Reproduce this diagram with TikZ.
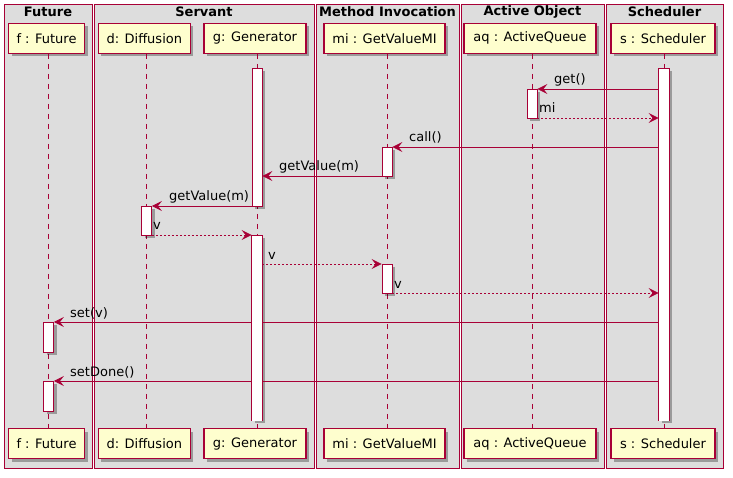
\documentclass[tikz,border=0pt]{standalone}
\usepackage{fontspec}
\setmainfont{DejaVu Sans}
\usetikzlibrary{arrows.meta,shadows}
\definecolor{pred}{HTML}{A80036}
\definecolor{pcream}{HTML}{FEFECE}
\definecolor{pgray}{HTML}{DDDDDD}
\begin{document}
\begin{tikzpicture}[x=1pt,y=-1pt,
  every node/.style={font=\fontsize{13}{15}\selectfont},
  grp/.style={draw=pred, fill=pgray, line width=0.8pt, anchor=north west, inner sep=0pt},
  grptitle/.style={font=\fontsize{13}{15}\selectfont\bfseries, inner sep=0pt},
  shad/.style={drop shadow={shadow xshift=3pt, shadow yshift=-3pt, opacity=0.3, fill=black}},
  part/.style={draw=pred, fill=pcream, line width=1.2pt, minimum height=30pt, inner sep=0pt, shad},
  life/.style={draw=pred, dash pattern=on 5pt off 5pt, line width=0.8pt},
  act/.style={draw=pred, fill=white, line width=0.8pt, minimum width=10pt, inner sep=0pt, anchor=north, shad},
  openact/.style={act, draw=none},
  actedge/.style={draw=pred, line width=0.8pt},
  msg/.style={draw=pred, line width=0.8pt, -{Stealth[length=10pt,width=10pt,inset=4pt]}},
  ret/.style={msg, dash pattern=on 2pt off 2pt},
  lbl/.style={anchor=base west, inner sep=0pt}
]
\useasboundingbox (0,0) rectangle (733,478);
\fill[white] (0,0) rectangle (733,478);
% groups
\node[grp, minimum width=88pt, minimum height=464pt] (gF) at (4,4) {};
\node[grp, minimum width=220pt, minimum height=464pt] (gS) at (94,4) {};
\node[grp, minimum width=143pt, minimum height=464pt] (gM) at (316,4) {};
\node[grp, minimum width=143pt, minimum height=464pt] (gA) at (461,4) {};
\node[grp, minimum width=117pt, minimum height=464pt] (gC) at (606,4) {};
\node[grptitle] (tF) at (48,12) {Future};
\node[grptitle] (tS) at (204,12) {Servant};
\node[grptitle] (tM) at (387.5,12) {Method Invocation};
\node[grptitle] (tA) at (532.5,12) {Active Object};
\node[grptitle] (tC) at (664.5,12) {Scheduler};
% participants
\node[part, minimum width=76pt] (pF) at (46.5,38.3) {f : Future};
\node[part, minimum width=92pt] (pD) at (144.3,38.3) {d: Diffusion};
\node[part, minimum width=102pt] (pG) at (255,38.3) {g: Generator};
\node[part, minimum width=121pt] (pM) at (384.5,38.3) {mi : GetValueMI};
\node[part, minimum width=132pt] (pA) at (530,38.3) {aq : ActiveQueue};
\node[part, minimum width=104pt] (pS) at (663,38.3) {s : Scheduler};
\node[part, minimum width=76pt] (bF) at (46.5,443.8) {f : Future};
\node[part, minimum width=92pt] (bD) at (144.3,443.8) {d: Diffusion};
\node[part, minimum width=102pt] (bG) at (255,443.8) {g: Generator};
\node[part, minimum width=121pt] (bM) at (384.5,443.8) {mi : GetValueMI};
\node[part, minimum width=132pt] (bA) at (530,443.8) {aq : ActiveQueue};
\node[part, minimum width=104pt] (bS) at (663,443.8) {s : Scheduler};
% lifeline x
\coordinate (xf) at (48.5,0);
\coordinate (xd) at (146.5,0);
\coordinate (xg) at (257,0);
\coordinate (xm) at (387,0);
\coordinate (xa) at (532,0);
\coordinate (xs) at (664,0);
\draw[life] (xf |- pF.south) -- (xf |- bF.north);
\draw[life] (xd |- pD.south) -- (xd |- bD.north);
\draw[life] (xg |- pG.south) -- (xg |- bG.north);
\draw[life] (xm |- pM.south) -- (xm |- bM.north);
\draw[life] (xa |- pA.south) -- (xa |- bA.north);
\draw[life] (xs |- pS.south) -- (xs |- bS.north);
% activations (short ones)
\node[act, minimum height=138pt] (gA1) at (257,68) {};
\node[act, minimum height=29pt] (aA) at (532,89) {};
\node[act, minimum height=29pt] (mA1) at (387,147) {};
\node[act, minimum height=29pt] (mA2) at (387,264) {};
\node[act, minimum height=29pt] (dA) at (146.5,206) {};
\node[act, minimum height=30pt] (fA1) at (48.5,322) {};
\node[act, minimum height=30pt] (fA2) at (48.5,381) {};
% message rows
\coordinate (m1) at (0,89);
\coordinate (m2) at (0,118);
\coordinate (m3) at (0,147);
\coordinate (m4) at (0,176);
\coordinate (m5) at (0,206);
\coordinate (m6) at (0,235);
\coordinate (m7) at (0,264);
\coordinate (m8) at (0,293);
\coordinate (m9) at (0,322);
\coordinate (m10) at (0,381);
% long open-ended activations
\node[openact, minimum height=185pt] (gA2) at (257,235) {};
\node[openact, minimum height=352pt] (sA) at (664,68) {};
\draw[msg] (sA.west |- m1) -- (aA.east |- m1);
\draw[ret] (aA.east |- m2) -- (sA.west |- m2);
\draw[msg] (sA.west |- m3) -- (mA1.east |- m3);
\draw[msg] (mA1.west |- m4) -- (gA1.east |- m4);
\draw[msg] (gA1.west |- m5) -- (dA.east |- m5);
\draw[ret] (dA.east |- m6) -- (gA2.west |- m6);
\draw[ret] (gA2.east |- m7) -- (mA2.west |- m7);
\draw[ret] (mA2.east |- m8) -- (sA.west |- m8);
\draw[msg] (sA.west |- m9) -- (fA1.east |- m9);
\draw[msg] (sA.west |- m10) -- (fA2.east |- m10);
% redraw long activations over the crossing lines, open at the bottom
\fill[white] (gA2.north west) rectangle (gA2.south east);
\draw[actedge] (gA2.south west) -- (gA2.north west) -- (gA2.north east) -- (gA2.south east);
\fill[white] (sA.north west) rectangle (sA.south east);
\draw[actedge] (sA.south west) -- (sA.north west) -- (sA.north east) -- (sA.south east);
% labels
\node[lbl] (l1) at (554,84) {get()};
\node[lbl] (l2) at (539,113) {mi};
\node[lbl] (l3) at (409,142) {call()};
\node[lbl] (l4) at (279,171) {getValue(m)};
\node[lbl] (l5) at (169,201) {getValue(m)};
\node[lbl] (l6) at (153,230) {v};
\node[lbl] (l7) at (268,259) {v};
\node[lbl] (l8) at (394,288) {v};
\node[lbl] (l9) at (70,317) {set(v)};
\node[lbl] (l10) at (70,376) {setDone()};
\end{tikzpicture}
\end{document}
